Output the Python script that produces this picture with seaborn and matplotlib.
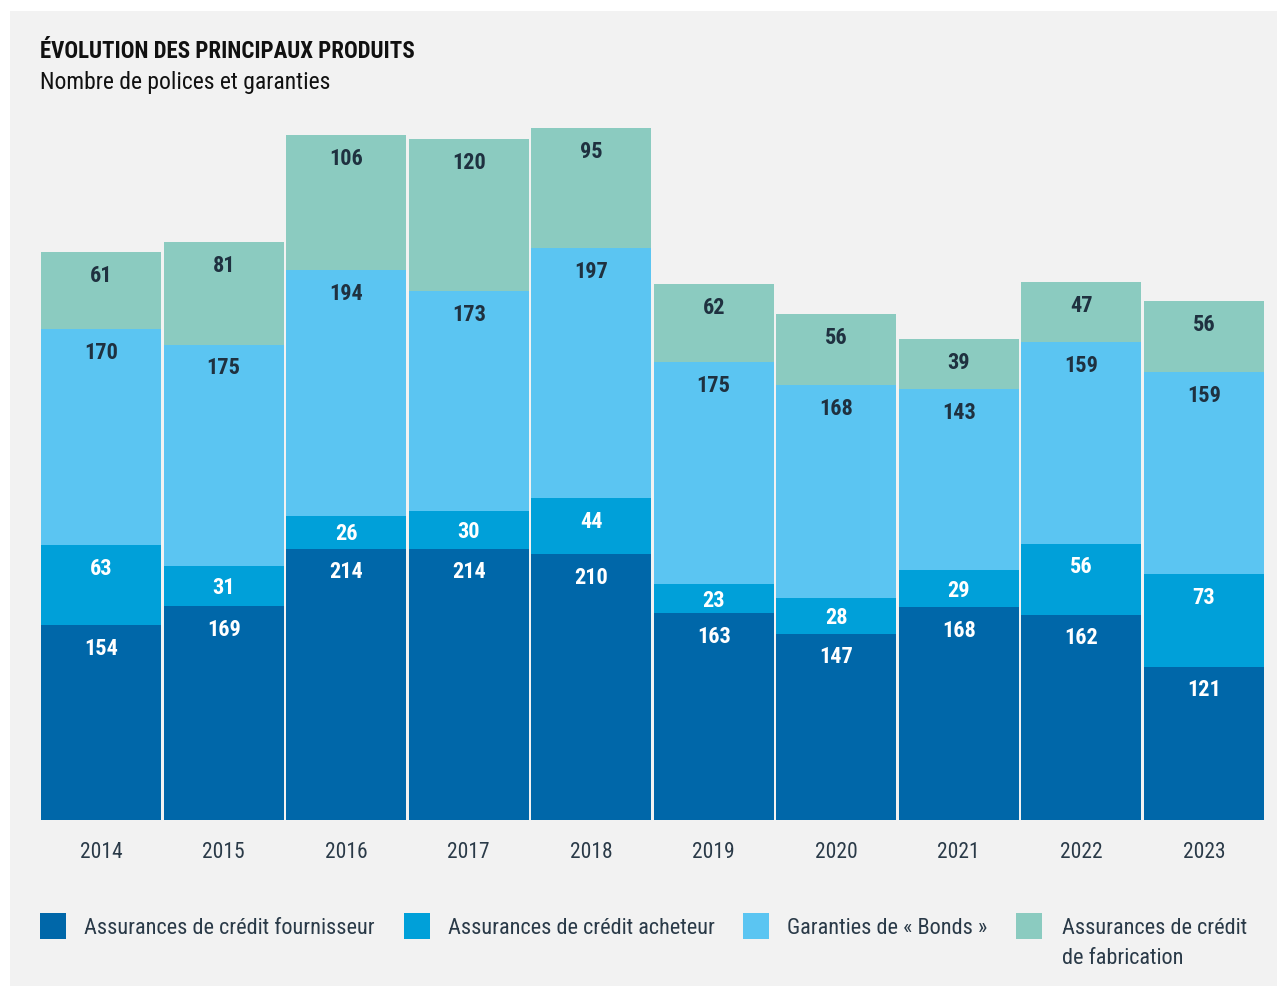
import numpy as np
import pandas as pd
import matplotlib
matplotlib.use("Agg")
import matplotlib.pyplot as plt
from matplotlib import font_manager
from matplotlib.patches import Rectangle
import seaborn as sns

years = ["2014", "2015", "2016", "2017", "2018", "2019", "2020", "2021", "2022", "2023"]
fournisseur = [154, 169, 214, 214, 210, 163, 147, 168, 162, 121]
acheteur = [63, 31, 26, 30, 44, 23, 28, 29, 56, 73]
bonds = [170, 175, 194, 173, 197, 175, 168, 143, 159, 159]
fabrication = [61, 81, 106, 120, 95, 62, 56, 39, 47, 56]
series_names = ["Assurances de crédit fournisseur", "Assurances de crédit acheteur",
                "Garanties de « Bonds »", "Assurances de crédit\nde fabrication"]
colors = ["#0067a9", "#00a0d9", "#5bc5f2", "#8bcbc0"]
label_colors = ["white", "white", "#1f3140", "#1f3140"]
title = "ÉVOLUTION DES PRINCIPAUX PRODUITS"
subtitle = "Nombre de polices et garanties"

sns.set_theme(style="white")

def pick_font(cands):
    for c in cands:
        try:
            font_manager.findfont(font_manager.FontProperties(family=c), fallback_to_default=False)
            return c
        except Exception:
            pass
    return "DejaVu Sans"

fam = pick_font(["Liberation Sans Narrow", "DejaVu Sans Condensed", "Roboto Condensed", "Liberation Sans"])
plt.rcParams["font.family"] = [fam, "DejaVu Sans"]

BG = "#f2f2f2"
fig = plt.figure(figsize=(12.82, 9.87), dpi=100)
fig.patch.set_facecolor("white")
W, H = 1282, 987
fig.patches.append(Rectangle((10 / W, 0), 1267 / W, 975 / H, transform=fig.transFigure,
                             facecolor=BG, edgecolor="none", zorder=-10))

ax = fig.add_axes([40 / W, 1 - 821 / H, 1225 / W, (821 - 111) / H])
ax.set_facecolor(BG)
ax.patch.set_alpha(0)

series = [fournisseur, acheteur, bonds, fabrication]
arr = np.array(series, dtype=float)
cum = np.cumsum(arr, axis=0)

for i in range(3, -1, -1):
    df = pd.DataFrame({"year": years, "v": cum[i]})
    sns.barplot(data=df, x="year", y="v", color=colors[i], saturation=1, width=0.978,
                edgecolor="none", linewidth=0, ax=ax, zorder=2 + (3 - i))

for i in range(4):
    for j in range(len(years)):
        top = cum[i][j]
        h = arr[i][j]
        y = top - min(18, h / 2 + 1)
        ax.text(j, y, f"{int(h)}", ha="center", va="center", fontsize=16,
                fontweight="bold", color=label_colors[i], zorder=10)

ax.set_xlim(-0.5, len(years) - 0.5)
ax.set_ylim(0, 560)
ax.set_xlabel("")
ax.set_ylabel("")
ax.set_yticks([])
ax.tick_params(axis="x", length=0, pad=15, labelsize=15.5, labelcolor="#2a3a48")
for s in ax.spines.values():
    s.set_visible(False)

fig.text(40 / W, 1 - 51 / H, title, fontsize=16.5, fontweight="bold", color="#111111",
         va="center", ha="left")
fig.text(40 / W, 1 - 83 / H, subtitle, fontsize=17, color="#111111", va="center", ha="left")

sq_x = [40, 404, 743, 1016]
tx_x = [84, 448, 787, 1062]
for k in range(4):
    fig.patches.append(Rectangle((sq_x[k] / W, 1 - 940 / H), 26 / W, 26 / H,
                                 transform=fig.transFigure, facecolor=colors[k],
                                 edgecolor="none", zorder=5))
    fig.text(tx_x[k] / W, 1 - 918 / H, series_names[k], fontsize=16, color="#2a3a48",
             va="top", ha="left", linespacing=1.55)

fig.savefig("out.png", dpi=100, facecolor=fig.get_facecolor())
